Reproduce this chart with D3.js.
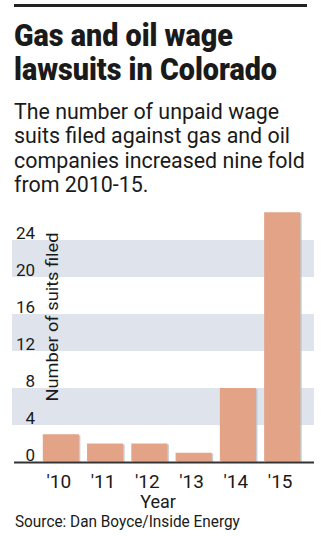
<!DOCTYPE html>
<html><head><meta charset="utf-8">
<script src="https://cdn.jsdelivr.net/npm/d3@7"></script>
<style>
html,body{margin:0;padding:0;background:#fff;}
svg{display:block;}
text{font-family:Roboto,"Liberation Sans",sans-serif;fill:#1a1a1a;}
</style></head>
<body>
<script>
const years = ["'10","'11","'12","'13","'14","'15"];
const suits = [3, 2, 2, 1, 8, 27];
const yTicks = [0, 4, 8, 12, 16, 20, 24];
const shadedBands = [[4, 8], [12, 16], [20, 24]];
const titleLines = ["Gas and oil wage", "lawsuits in Colorado"];
const subtitleLines = ["The number of unpaid wage", "suits filed against gas and oil", "companies increased nine fold", "from 2010-15."];
const yAxisTitle = "Number of suits filed";
const xAxisTitle = "Year";
const sourceText = "Source: Dan Boyce/Inside Energy";

const W = 324, H = 536;
const svg = d3.select("body").append("svg").attr("width", W).attr("height", H);

function squeezed(x, y, sx) {
  return svg.append("text").attr("transform", `translate(${x},${y}) scale(${sx},1)`);
}

// top rule
svg.append("rect").attr("x", 14).attr("y", 4).attr("width", 293).attr("height", 3).attr("fill", "#222");

// title
{
  const lines = titleLines.map((t, i) => squeezed(14, 46 + i * 34, 1)
    .attr("font-size", 32).attr("font-weight", 900).attr("fill", "#111").text(t));
  const sx = 263 / lines[1].node().getComputedTextLength();
  lines.forEach((s, i) => s.attr("transform", `translate(14,${46 + i * 34}) scale(${sx},1)`));
}

// subtitle
{
  const lines = subtitleLines.map((t, i) => squeezed(14, 119 + i * 24.3, 1)
    .attr("font-size", 22.5).attr("fill", "#222").text(t));
  const sx = 291 / lines[2].node().getComputedTextLength();
  lines.forEach((s, i) => s.attr("transform", `translate(14,${119 + i * 24.3}) scale(${sx},1)`));
}

// scales
const y = d3.scaleLinear().domain([0, 27]).range([462, 462 - 27 * 9.25]);
const x = d3.scaleBand().domain(years).range([38.8, 304.2]).paddingInner(0.185).paddingOuter(0.09);

// shaded bands
svg.append("g").selectAll("rect").data(shadedBands).join("rect")
  .attr("x", 12).attr("width", 302)
  .attr("y", d => y(d[1])).attr("height", d => y(d[0]) - y(d[1]))
  .attr("fill", "#dfe4ec");

// y tick labels
svg.append("g").selectAll("text").data(yTicks).join("text")
  .attr("x", 35).attr("y", d => y(d) - 1).attr("text-anchor", "end")
  .attr("font-size", 17).attr("fill", "#222").text(d => d);

// y axis title
{
  const s = svg.append("text").attr("transform", "translate(57.5,317) rotate(-90)")
    .attr("text-anchor", "middle").attr("font-size", 17).attr("fill", "#222").text(yAxisTitle);
  const sx = 169 / s.node().getComputedTextLength();
  s.attr("transform", `translate(57.5,317) rotate(-90) scale(${sx},1)`);
}

// bars shadow
svg.append("g").selectAll("rect").data(suits).join("rect")
  .attr("x", (d, i) => x(years[i]) + 1.5).attr("width", x.bandwidth())
  .attr("y", d => y(d) + 1).attr("height", d => y(0) - y(d) - 1)
  .attr("fill", "#b9bfc7").attr("opacity", 0.8);
// bars
svg.append("g").selectAll("rect").data(suits).join("rect")
  .attr("x", (d, i) => x(years[i])).attr("width", x.bandwidth())
  .attr("y", d => y(d)).attr("height", d => y(0) - y(d) - 1)
  .attr("fill", "#e2a387");

// baseline axis
svg.append("line").attr("x1", 14).attr("x2", 314).attr("y1", y(0) + 0.5).attr("y2", y(0) + 0.5)
  .attr("stroke", "#333").attr("stroke-width", 2);

// x labels
svg.append("g").selectAll("text").data(years).join("text")
  .attr("x", d => x(d) + x.bandwidth() / 2 - 2).attr("y", 488).attr("text-anchor", "middle")
  .attr("font-size", 19).attr("fill", "#222").text(d => d);

svg.append("text").attr("x", 158).attr("y", 508).attr("text-anchor", "middle")
  .attr("font-size", 18).attr("fill", "#222").text(xAxisTitle);

{
  const s = squeezed(15, 527, 1).attr("font-size", 17).attr("fill", "#222").text(sourceText);
  const sx = 225 / s.node().getComputedTextLength();
  s.attr("transform", `translate(15,527) scale(${sx},1)`);
}
</script>
</body></html>
